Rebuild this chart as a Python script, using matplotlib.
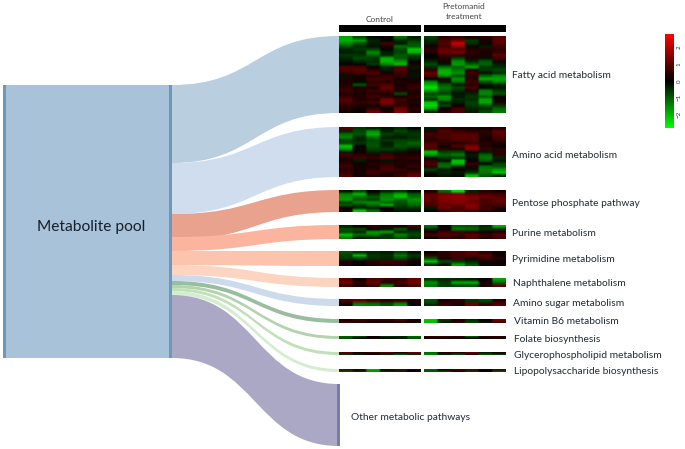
import numpy as np
import matplotlib
matplotlib.use('Agg')
import matplotlib.pyplot as plt
from matplotlib.path import Path
from matplotlib.patches import PathPatch, Rectangle
from matplotlib.colors import LinearSegmentedColormap

# nomes das vias
pathways = ['Fatty acid metabolism', 'Amino acid metabolism', 'Pentose phosphate pathway',
            'Purine metabolism', 'Pyrimidine metabolism', 'Naphthalene metabolism',
            'Amino sugar metabolism', 'Vitamin B6 metabolism', 'Folate biosynthesis',
            'Glycerophospholipid metabolism', 'Lipopolysaccharide biosynthesis',
            'Other metabolic pathways']

# extremos de cada fluxo (em pixels)
left_top = [85, 163, 214, 237, 251, 265, 275, 281, 285, 288, 291, 295]
left_bottom = [163, 214, 240, 251, 265, 275, 281, 285, 288, 291, 295, 358]
right_top = [36, 127, 190, 225, 251, 278, 299, 319, 336, 352, 369, 384]
right_bottom = [113, 177, 212, 239, 266, 287, 306, 323, 339, 355, 372, 446]

# heatmaps: linhas = metabolitos, colunas = replicatas
fatty_control = [
    [-1.8, -0.8, -0.1, 0.1, -1.2, -0.3],
    [-1.9, -1.7, -0.4, -0.1, -0.5, -0.6],
    [-1.5, -0.9, -0.3, 0.8, -0.3, -0.9],
    [-0.9, -0.5, -0.2, 0.3, -1.2, -1.0],
    [-0.4, -0.6, -0.7, -0.1, -0.8, -2.2],
    [-0.3, -0.4, -1.5, -0.3, -0.7, -2.0],
    [-0.6, -0.6, -1.1, -0.5, -1.0, -0.7],
    [-0.4, -0.8, -0.6, -1.9, -1.0, -0.5],
    [-0.2, -0.5, -0.5, -2.0, -1.6, -0.1],
    [-0.1, -0.1, -0.6, -1.5, -2.1, 0.3],
    [0.9, 0.8, 0.1, -0.4, 0.9, -0.3],
    [0.8, 1.0, 0.5, -0.3, 0.9, 0.3],
    [0.6, 0.7, 0.9, 0.2, 0.7, -0.2],
    [-0.2, 0.3, 0.4, 0.6, 0.5, -0.2],
    [0.4, 0.2, 0.8, 0.7, 0.2, 0.3],
    [0.3, -0.1, 0.5, 0.4, 0.4, 0.2],
    [0.4, -0.9, 0.7, 0.9, 0.3, 0.5],
    [0.5, 0.3, 0.3, 1.1, 0.3, 0.6],
    [0.7, 0.4, 0.6, 0.8, 0.4, 0.4],
    [0.3, 0.3, 0.5, 0.3, -0.8, 0.3],
    [0.6, 0.4, 0.7, 0.5, 0.3, 0.5],
    [0.9, 0.3, 0.4, 1.3, 0.7, 0.3],
    [0.8, 0.6, 0.7, 1.4, 0.5, 0.4],
    [0.5, 0.3, 0.2, 0.8, 0.6, 0.2],
    [0.4, 0.2, 0.6, 0.1, 1.2, 0.5],
    [0.2, 0.1, 1.1, 0.4, 1.4, 0.3],
]
fatty_treated = [
    [-0.7, 0.5, 0.6, 0.3, 0.4, 0.9],
    [-0.4, 0.8, 1.2, -0.6, 0.3, 1.0],
    [-0.3, 0.9, 2.2, -0.5, 0.2, 0.9],
    [0.2, 0.7, 1.6, 0.2, -0.3, 0.7],
    [0.5, 1.1, 0.8, 0.4, 0.4, 0.5],
    [0.4, 1.2, 1.4, 0.5, 0.3, 0.6],
    [0.1, 0.6, 0.5, 0.4, 0.3, 1.0],
    [-0.1, 0.4, -0.7, 0.3, -0.2, 0.7],
    [-0.4, 0.3, -1.5, -0.4, -0.9, 0.3],
    [-0.8, -0.2, -1.7, -1.0, -1.1, -0.3],
    [-0.5, -1.2, -1.1, -1.8, -0.6, -0.5],
    [0.5, -1.9, -1.3, 0.3, -0.6, -0.8],
    [1.1, -2.0, -1.6, 0.7, -0.2, -0.5],
    [0.8, -1.5, -0.9, 0.5, -1.1, -1.5],
    [0.1, 0.4, -1.6, 0.4, -1.9, -1.8],
    [-1.5, -0.3, -1.2, 0.7, -0.9, -1.4],
    [-2.0, -1.0, -0.3, 0.5, -0.2, -0.4],
    [-2.5, -1.3, -0.8, 0.8, -0.1, -0.2],
    [-1.7, -1.0, -0.5, 0.3, -1.4, -0.6],
    [-0.8, -0.7, -0.2, -0.4, -1.5, -0.9],
    [-1.1, -1.6, -0.3, -0.6, -1.0, 0.2],
    [-0.6, -1.4, -0.5, -0.5, -1.8, -0.1],
    [-2.2, -0.4, -0.3, -0.7, -1.8, 0.4],
    [-2.4, -0.8, 0.2, -0.6, -0.9, -0.6],
    [-1.8, 0.2, 0.7, -0.4, -0.5, -1.1],
    [-0.5, 0.4, 0.8, -0.3, -0.8, -1.3],
]
amino_control = [
    [0.9, -0.6, -0.4, -0.2, -0.5, -0.1],
    [-0.4, -0.8, -1.6, -0.4, -0.8, -0.5],
    [-1.2, -0.9, -1.9, -0.7, -0.5, -0.6],
    [-1.4, -0.5, -1.2, -0.3, -0.3, -0.5],
    [-0.7, -0.4, -0.8, -0.6, -0.7, -0.7],
    [-0.8, -0.6, -0.9, -0.3, -0.8, -1.1],
    [-2.1, -0.1, -0.9, -0.4, -0.9, -0.8],
    [-1.6, 0.3, -0.7, -0.7, -0.6, -0.3],
    [-0.3, -0.1, -0.4, -0.3, -0.2, 0.3],
    [0.8, 0.5, 0.4, 0.7, 0.4, 0.3],
    [0.4, 0.7, 0.6, 0.9, 0.5, 0.6],
    [0.3, -0.3, 0.2, -0.2, 0.3, 0.3],
    [0.5, 0.2, 0.4, 0.5, 0.4, 0.4],
    [0.7, 0.3, 0.3, 0.7, 0.3, 0.6],
    [0.4, 0.2, 0.5, 0.8, 0.6, 0.3],
    [0.6, 0.3, 0.7, 0.4, 0.5, 0.7],
    [0.8, 0.2, 0.4, 0.3, 0.6, 1.1],
]
amino_treated = [
    [-0.3, 0.6, 0.3, 0.2, 0.2, 0.4],
    [0.4, 0.9, 0.7, 0.5, 0.5, 1.0],
    [0.7, 0.7, 0.9, 0.9, 0.4, 0.9],
    [0.6, 0.9, 1.0, 1.0, 0.3, 0.8],
    [0.5, 0.6, 0.8, 0.9, 0.2, 0.6],
    [0.8, 0.5, 0.4, 0.6, 0.5, 0.3],
    [1.0, 0.2, 0.9, 1.3, 0.3, 0.1],
    [0.7, 0.4, 0.3, 1.5, 0.6, 0.5],
    [-2.2, -0.7, -0.8, 0.2, -0.3, 0.4],
    [-1.6, -1.1, -1.4, -0.3, -1.1, 0.5],
    [-0.2, -0.6, -0.5, -0.2, -1.3, -0.4],
    [0.6, -0.2, -2.2, 0.1, -0.9, -0.2],
    [0.8, -1.1, -2.0, 0.6, -0.1, -0.7],
    [0.5, -1.2, -0.4, 0.3, -1.2, -0.9],
    [-0.7, -0.3, 0.2, -0.2, -1.4, -1.7],
    [-0.2, -0.4, -0.3, -0.6, -1.3, -2.1],
    [0.1, -0.2, -0.1, -2.0, -0.9, -0.4],
]
pentose_control = [
    [-0.2, -0.8, 0.1, -0.4, -0.6, -0.1],
    [-1.4, -2.0, -0.5, -1.3, -1.9, -1.0],
    [-1.6, -1.2, -1.0, -1.5, -2.1, -1.2],
    [-1.7, -1.0, -0.7, -1.6, -1.1, -1.6],
    [-0.8, -1.4, -1.5, -1.1, -0.9, -1.4],
    [-1.0, -0.6, -1.2, -1.9, -0.7, -1.1],
    [0.1, -0.4, -0.3, 0.1, -0.5, -0.6],
    [0.3, -2.2, -1.2, 0.2, -0.3, -0.2],
]
pentose_treated = [
    [0.3, -1.2, -2.4, -0.4, 0.4, 0.2],
    [1.0, 1.2, 1.3, 0.9, 0.8, 0.7],
    [1.1, 1.5, 1.6, 1.4, 1.2, 0.9],
    [1.0, 1.4, 1.5, 1.3, 0.7, 1.1],
    [0.9, 1.3, 1.4, 1.2, 0.9, 1.0],
    [0.8, 1.1, 1.2, 1.5, 0.6, 0.8],
    [-0.3, 1.3, 0.7, 1.4, 0.8, 0.3],
    [-0.1, 0.6, 0.9, 0.8, 0.5, 0.3],
]
purine_control = [
    [-0.4, 0.2, 0.5, 0.4, 0.3, 0.8],
    [-0.9, -0.8, 0.1, -0.3, -1.0, -0.2],
    [-0.7, -0.5, -1.7, -1.8, -0.4, -0.6],
    [-2.1, -1.2, -1.4, -0.5, -1.5, -0.8],
    [-1.3, -0.3, -0.4, -0.6, -0.9, -0.5],
]
purine_treated = [
    [-1.2, 0.1, -1.0, -0.9, -0.5, -1.9],
    [-0.4, 0.1, -1.3, -1.2, -0.6, -0.5],
    [0.2, 0.7, 0.6, 0.5, 0.2, 0.4],
    [0.8, 0.9, 0.7, 1.0, 0.6, 0.9],
    [0.1, 0.6, 0.4, 0.8, 0.3, 0.7],
]
pyrimidine_control = [
    [-0.9, -0.6, -0.4, -0.3, -0.7, -0.2],
    [-0.7, -2.0, -0.6, -0.5, -1.3, -0.6],
    [-0.6, -0.7, -0.5, -0.4, -0.8, -0.3],
    [0.4, 0.2, 0.5, 0.7, 0.6, 0.3],
    [0.2, 0.1, 0.3, 0.4, 0.5, 0.1],
]
pyrimidine_treated = [
    [0.1, 0.5, 0.7, 0.9, 0.5, 0.2],
    [0.6, 0.5, 0.8, 0.9, 0.9, 0.1],
    [-0.9, 0.3, 0.6, 0.3, 0.6, 0.4],
    [-2.1, -0.8, -0.6, -0.4, 0.3, 0.1],
    [-0.6, -0.2, -1.7, -0.9, -0.1, 0.2],
]
naphthalene_control = [
    [0.9, 0.2, 0.8, 0.6, 0.5, 1.1],
    [1.2, 0.5, 1.1, 0.4, 0.7, 1.2],
    [0.7, 0.3, 0.6, -1.4, 0.4, 0.8],
]
naphthalene_treated = [
    [-0.6, -0.5, -0.4, -0.3, 0.1, -1.8],
    [-1.5, -0.6, -1.8, -1.9, 0.2, -1.1],
    [-1.3, -0.7, -0.8, -0.9, 0.3, 1.0],
]
amino_sugar_control = [
    [0.8, 1.1, 0.7, 0.5, 0.6, 0.3],
    [0.2, -1.4, -1.3, -0.9, -1.6, 0.1],
]
amino_sugar_treated = [
    [-0.9, 0.3, 0.5, -0.6, -0.8, 0.4],
    [-0.5, 0.6, 0.3, 1.1, 0.5, 0.9],
]
b6_control = [
    [0.2, 0.7, 0.5, 0.5, 0.8, 0.3],
    [0.7, 0.4, 0.2, 0.3, 0.4, 0.2],
]
b6_treated = [
    [-2.2, -0.6, 0.3, -0.4, 0.1, 1.2],
    [-2.0, -0.3, 0.5, -0.7, -0.2, 0.8],
]
folate_control = [[-1.0, -0.7, 0.1, -0.5, -0.4, -1.1], [-0.8, 0.2, 0.3, 0.1, -0.3, -0.9]]
folate_treated = [[0.5, 0.6, 0.4, -0.9, 0.4, 0.5], [0.2, 0.1, 0.2, 0.1, 0.1, 0.3]]
glycero_control = [[0.9, 0.3, 0.5, 0.8, 0.3, 1.0], [-0.6, -0.3, 0.1, -0.4, -0.9, -0.5]]
glycero_treated = [[-1.2, 0.3, 0.4, 0.9, -0.3, 0.2], [-1.4, -0.4, -0.8, 0.6, -0.9, -0.6]]
lipo_control = [[1.0, 0.5, -1.9, 0.4, 0.8, 0.2], [-0.8, -0.5, -1.6, -0.5, -0.4, 0.1]]
lipo_treated = [[-1.1, 0.3, 0.7, 0.9, 0.1, 0.8], [-0.9, -0.7, 0.4, -0.6, 0.1, -0.8]]

controls = [fatty_control, amino_control, pentose_control, purine_control, pyrimidine_control,
            naphthalene_control, amino_sugar_control, b6_control, folate_control, glycero_control,
            lipo_control]
treated = [fatty_treated, amino_treated, pentose_treated, purine_treated, pyrimidine_treated,
           naphthalene_treated, amino_sugar_treated, b6_treated, folate_treated, glycero_treated,
           lipo_treated]

flow_colors = ['#b9cfe0', '#cfddee', '#e8a28e', '#fbb59e', '#fcc4ad', '#fcd4c0',
               '#ccdaec', '#98bd9f', '#b2d3ac', '#c1dfb9', '#d5ecce', '#aba8c6']
label_x = [512, 512, 512, 512, 512, 513, 513, 514, 514, 514, 514, 351]
label_y = [75, 155, 203, 233, 259, 284, 304, 322, 339, 355, 371, 418]

W, H = 685, 449
fig = plt.figure(figsize=(W / 100, H / 100), dpi=100)
plt.rcParams['font.family'] = ['Lato', 'DejaVu Sans']
ax = fig.add_axes([0, 0, 1, 1])

cmap = LinearSegmentedColormap.from_list('gkr', ['#00ff00', '#000000', '#ff0000'])
VMAX = 2.8
X0, X1 = 172, 339


def flow(i):
    # faixa em S entre o pool e o heatmap
    xm = (X0 + X1) / 2
    verts = [(X0, left_top[i]), (xm, left_top[i]), (xm, right_top[i]), (X1, right_top[i]),
             (X1, right_bottom[i]), (xm, right_bottom[i]), (xm, left_bottom[i]), (X0, left_bottom[i]),
             (X0, left_top[i])]
    codes = [Path.MOVETO, Path.CURVE4, Path.CURVE4, Path.CURVE4, Path.LINETO,
             Path.CURVE4, Path.CURVE4, Path.CURVE4, Path.CLOSEPOLY]
    return PathPatch(Path(verts, codes), facecolor=flow_colors[i], edgecolor='none')


for i in range(len(pathways)):
    ax.add_patch(flow(i))

# pool de metabolitos
ax.add_patch(Rectangle((3, 85), 169, 273, facecolor='#a8c2da', edgecolor='none'))
ax.add_patch(Rectangle((3, 85), 3, 273, facecolor='#6e97bb', edgecolor='none'))
ax.add_patch(Rectangle((169, 85), 3, 273, facecolor='#6e97bb', edgecolor='none'))
ax.add_patch(Rectangle((337, 384), 3, 62, facecolor='#7d7ba6', edgecolor='none'))
ax.text(91, 227.5, 'Metabolite pool', fontsize=11.2, color='#17202b', ha='center', va='center')

# heatmaps (repeat nas colunas para o bilinear so suavizar as bordas das celulas)
for i in range(len(controls)):
    for data, xa, xb in [(controls[i], 339, 421), (treated[i], 424, 506)]:
        im = ax.imshow(np.repeat(np.array(data), 5, axis=1), cmap=cmap, vmin=-VMAX, vmax=VMAX,
                       aspect='auto', interpolation='bilinear',
                       extent=(xa, xb, right_bottom[i], right_top[i]))

ax.add_patch(Rectangle((339, 25), 82, 7, facecolor='black', edgecolor='none'))
ax.add_patch(Rectangle((424, 25), 82, 7, facecolor='black', edgecolor='none'))
ax.text(380, 19, 'Control', fontsize=6, color='#444444', ha='center', va='center')
ax.text(464, 11.5, 'Pretomanid\ntreatment', fontsize=6, color='#444444', ha='center', va='center',
        linespacing=1.5)

for name, x, y in zip(pathways, label_x, label_y):
    ax.text(x, y, name, fontsize=7.4, color='#1f2a36', ha='left', va='center')

ax.set_xlim(0, W)
ax.set_ylim(H, 0)
ax.axis('off')

# barra de cores
cax = fig.add_axes([665 / W, 1 - 128 / H, 9 / W, 94 / H])
cb = fig.colorbar(im, cax=cax)
cb.set_ticks([-2, -1, 0, 1, 2])
cb.outline.set_visible(False)
cb.ax.tick_params(length=0, labelsize=4.5, pad=2, colors='#333333')
for t in cb.ax.get_yticklabels():
    t.set_rotation(90)
    t.set_va('center')

plt.savefig('out.png', dpi=100)
